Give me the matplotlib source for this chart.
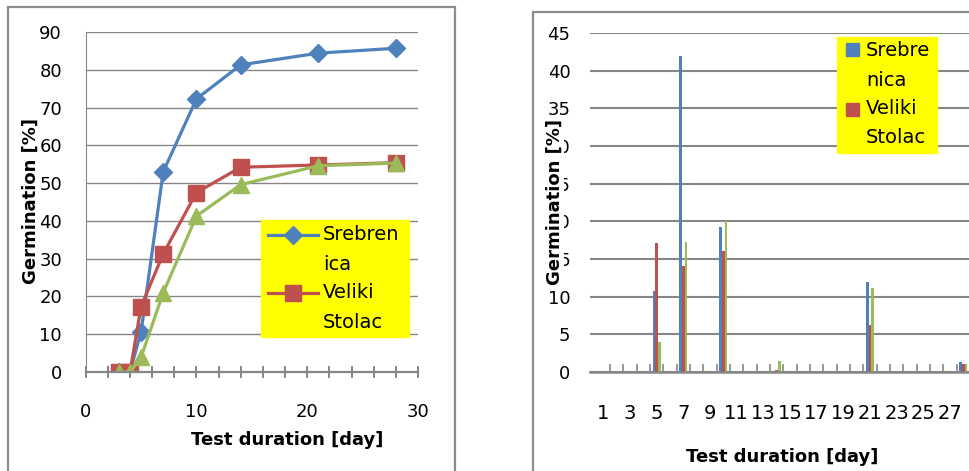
import numpy as np
import matplotlib
matplotlib.use("Agg")
import matplotlib.pyplot as plt
from matplotlib.patches import Rectangle
from matplotlib.lines import Line2D
from matplotlib.ticker import MultipleLocator, FixedLocator

plt.rcParams['font.family'] = ['DejaVu Sans']

# cumulative germination (left chart)
days_cum = [3, 4, 5, 7, 10, 14, 21, 28]
srebrenica_cum = [0, 0, 10.7, 53.0, 72.3, 81.3, 84.4, 85.7]
veliki_cum = [0, 0, 17.3, 31.3, 47.5, 54.2, 54.8, 55.4]
third_cum = [0, 0, 3.9, 21.0, 41.3, 49.6, 54.6, 55.3]

# daily germination (right chart)
days = list(range(1, 29))
srebrenica_day = [0, 0, 0, 0, 10.7, 0, 42.0, 0, 0, 19.3, 0, 0, 0, 0,
                  0, 0, 0, 0, 0, 0, 12.0, 0, 0, 0, 0, 0, 0, 1.3]
veliki_day = [0, 0, 0, 0, 17.1, 0, 14.1, 0, 0, 16.1, 0, 0, 0, 0.3,
              0, 0, 0, 0, 0, 0, 6.3, 0, 0, 0, 0, 0, 0, 1.0]
third_day = [0, 0, 0, 0, 4.0, 0, 17.3, 0, 0, 20.1, 0, 0, 0, 1.5,
             0, 0, 0, 0, 0, 0, 11.2, 0, 0, 0, 0, 0, 0, 1.0]

BLUE, RED, GREEN = '#4F81BD', '#C0504D', '#9BBB59'
GRID = '#868686'
W, H = 969, 471


def fx(x):
    return x / W


def fy(y):
    return 1 - y / H


fig = plt.figure(figsize=(9.69, 4.71), dpi=100)

# panel frames
fig.add_artist(Rectangle((fx(8), fy(480)), fx(447), 473 / H, fill=False,
                         edgecolor='#8c8c8c', lw=1.6, transform=fig.transFigure))
fig.add_artist(Rectangle((fx(533), fy(480)), fx(447), 468 / H, fill=False,
                         edgecolor='#8c8c8c', lw=1.6, transform=fig.transFigure))

### LEFT: cumulative ###
ax1 = fig.add_axes([fx(85.7), fy(372), fx(418 - 85.7), 340 / H])
ax1.plot(days_cum, srebrenica_cum, color=BLUE, lw=2.3, marker='D', ms=9)
ax1.plot(days_cum, veliki_cum, color=RED, lw=2.3, marker='s', ms=12)
ax1.plot(days_cum, third_cum, color=GREEN, lw=2.3, marker='^', ms=12)
ax1.set_xlim(0, 30)
ax1.set_ylim(0, 90)
ax1.xaxis.set_major_locator(MultipleLocator(10))
ax1.xaxis.set_minor_locator(MultipleLocator(2))
ax1.yaxis.set_major_locator(MultipleLocator(10))
ax1.grid(axis='y', color=GRID, lw=1)
ax1.set_axisbelow(True)
for s in ['top', 'right']:
    ax1.spines[s].set_visible(False)
ax1.spines['left'].set_color(GRID)
ax1.spines['bottom'].set_color(GRID)
ax1.spines['bottom'].set_linewidth(1.6)
ax1.tick_params(axis='x', which='both', direction='inout', length=9, width=1.4,
                color=GRID, pad=18, labelsize=13)
ax1.tick_params(axis='y', length=0, pad=17, labelsize=13)

fig.text(fx(31), fy(201), 'Germination [%]', rotation=90, ha='center', va='center',
         fontsize=13, fontweight='bold',
         bbox=dict(facecolor='white', edgecolor='none', pad=0))
fig.text(fx(287), fy(440), 'Test duration [day]', ha='center', va='center',
         fontsize=13, fontweight='bold')

# legend (left)
fig.add_artist(Rectangle((fx(261), fy(337)), fx(148), 117 / H, color='#FFFF00',
                         transform=fig.transFigure))
fig.add_artist(Line2D([fx(268), fx(318)], [fy(235), fy(235)], color=BLUE, lw=2.3,
                      transform=fig.transFigure))
fig.add_artist(Line2D([fx(293)], [fy(235)], color=BLUE, marker='D', ms=9,
                      transform=fig.transFigure))
fig.add_artist(Line2D([fx(268), fx(318)], [fy(293), fy(293)], color=RED, lw=2.3,
                      transform=fig.transFigure))
fig.add_artist(Line2D([fx(293)], [fy(293)], color=RED, marker='s', ms=12,
                      transform=fig.transFigure))
for txt, y in [('Srebren', 235), ('ica', 265), ('Veliki', 293), ('Stolac', 323)]:
    fig.text(fx(323), fy(y), txt, ha='left', va='center', fontsize=14)

### RIGHT: daily ###
ax2 = fig.add_axes([fx(590), fy(372), fx(W - 590), (372 - 33) / H])
x = np.array(days)
bw = 0.2
ax2.bar(x - bw, srebrenica_day, width=bw, color=BLUE)
ax2.bar(x, veliki_day, width=bw, color=RED)
ax2.bar(x + bw, third_day, width=bw, color=GREEN)
ax2.set_xlim(0, 28.43)
ax2.set_ylim(0, 45)
ax2.yaxis.set_major_locator(MultipleLocator(5))
ax2.xaxis.set_major_locator(FixedLocator(days[::2]))
ax2.xaxis.set_minor_locator(FixedLocator([d + 0.5 for d in days]))
ax2.grid(axis='y', color=GRID, lw=1.5)
ax2.set_axisbelow(True)
for s in ['top', 'right', 'left']:
    ax2.spines[s].set_visible(False)
ax2.spines['bottom'].set_color(GRID)
ax2.spines['bottom'].set_linewidth(1.8)
ax2.tick_params(axis='x', which='major', length=0, pad=23, labelsize=14)
ax2.tick_params(axis='x', which='minor', direction='in', length=6, width=1.2, color=GRID)
ax2.tick_params(axis='y', length=0, pad=14, labelsize=13)

fig.text(fx(555), fy(202), 'Germination [%]', rotation=90, ha='center', va='center',
         fontsize=13, fontweight='bold',
         bbox=dict(facecolor='white', edgecolor='none', pad=0))
fig.text(fx(782), fy(457), 'Test duration [day]', ha='center', va='center',
         fontsize=13, fontweight='bold')

# legend (right)
fig.add_artist(Rectangle((fx(837), fy(153)), fx(100), 116 / H, color='#FFFF00',
                         transform=fig.transFigure))
fig.add_artist(Rectangle((fx(846), fy(56)), fx(13), 13 / H, color=BLUE,
                         transform=fig.transFigure))
fig.add_artist(Rectangle((fx(846), fy(116)), fx(13), 13 / H, color=RED,
                         transform=fig.transFigure))
for txt, y in [('Srebre', 50), ('nica', 81), ('Veliki', 108), ('Stolac', 138)]:
    fig.text(fx(866), fy(y), txt, ha='left', va='center', fontsize=14)

plt.savefig("out.png", dpi=100)
